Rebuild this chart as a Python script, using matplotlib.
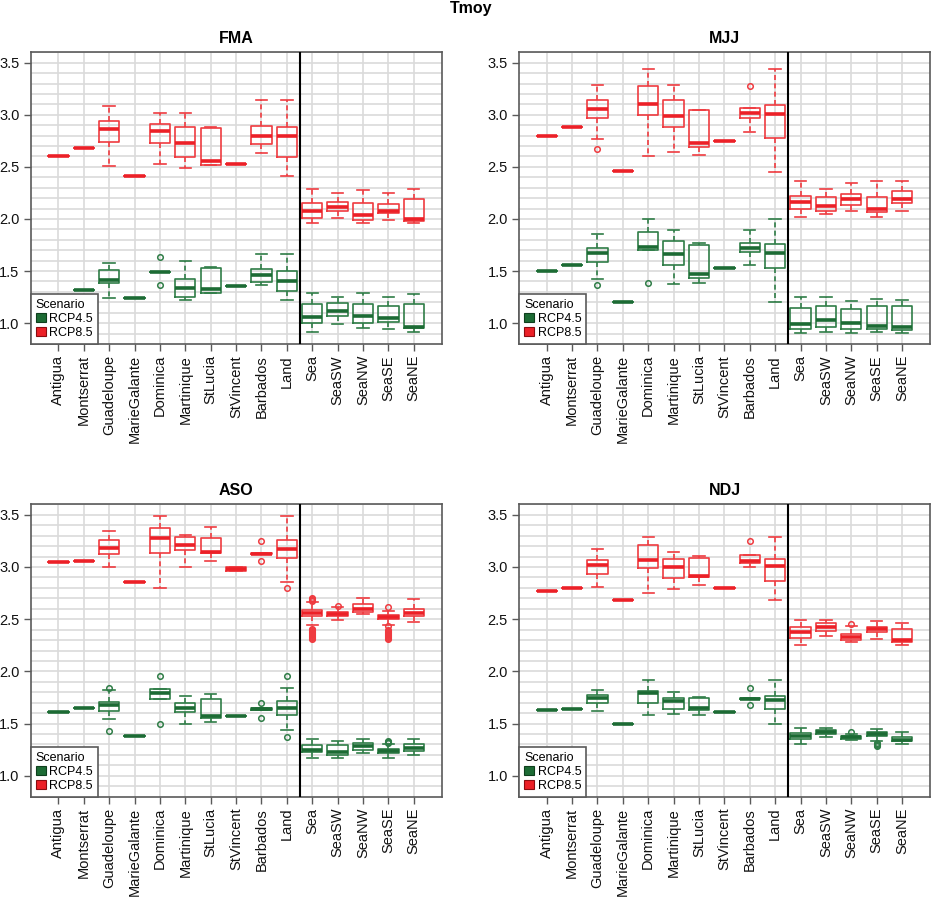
import matplotlib
matplotlib.use('Agg')
import matplotlib.pyplot as plt
import numpy as np
from matplotlib.patches import Patch

plt.rcParams['font.family'] = ['Liberation Sans', 'DejaVu Sans']

CATEGORIES = ['Antigua', 'Montserrat', 'Guadeloupe', 'MarieGalante', 'Dominica',
              'Martinique', 'StLucia', 'StVincent', 'Barbados', 'Land',
              'Sea', 'SeaSW', 'SeaNW', 'SeaSE', 'SeaNE']
SCENARIOS = ['RCP4.5', 'RCP8.5']
YTICKS = [1.0, 1.5, 2.0, 2.5, 3.0, 3.5]

# ---------------- FMA ----------------
FMA_85_LO  = [2.60, 2.68, 2.505, 2.41, 2.524, 2.492, 2.52, 2.531, 2.636, 2.41, 1.957, 2.011, 1.963, 1.995, 1.96]
FMA_85_Q1  = [2.60, 2.68, 2.735, 2.41, 2.725, 2.598, 2.521, 2.531, 2.716, 2.598, 2.014, 2.078, 1.995, 2.062, 1.976]
FMA_85_MED = [2.60, 2.68, 2.862, 2.41, 2.84, 2.725, 2.553, 2.531, 2.80, 2.792, 2.078, 2.119, 2.04, 2.081, 2.001]
FMA_85_Q3  = [2.60, 2.68, 2.945, 2.41, 2.916, 2.881, 2.875, 2.531, 2.888, 2.885, 2.154, 2.167, 2.151, 2.145, 2.193]
FMA_85_HI  = [2.60, 2.68, 3.082, 2.41, 3.022, 3.022, 2.885, 2.531, 3.14, 3.14, 2.285, 2.247, 2.276, 2.247, 2.285]
FMA_85_FL  = {}

FMA_45_LO  = [1.265, 1.319, 1.242, 1.239, 1.491, 1.22, 1.29, 1.354, 1.37, 1.22, 0.917, 0.99, 0.952, 0.943, 0.917]
FMA_45_Q1  = [1.265, 1.319, 1.383, 1.239, 1.491, 1.252, 1.29, 1.354, 1.399, 1.309, 1.0, 1.067, 1.003, 1.013, 0.949]
FMA_45_MED = [1.265, 1.319, 1.418, 1.239, 1.491, 1.341, 1.325, 1.354, 1.459, 1.405, 1.061, 1.121, 1.07, 1.045, 0.965]
FMA_45_Q3  = [1.265, 1.319, 1.51, 1.239, 1.491, 1.424, 1.529, 1.354, 1.52, 1.501, 1.185, 1.194, 1.185, 1.166, 1.182]
FMA_45_HI  = [1.265, 1.319, 1.574, 1.239, 1.491, 1.60, 1.539, 1.354, 1.663, 1.663, 1.29, 1.255, 1.29, 1.252, 1.28]
FMA_45_FL  = {4: [1.635, 1.37]}

# ---------------- MJJ ----------------
MJJ_85_LO  = [2.792, 2.881, 2.767, 2.457, 2.607, 2.645, 2.614, 2.747, 2.837, 2.454, 2.02, 2.052, 2.078, 2.02, 2.081]
MJJ_85_Q1  = [2.792, 2.881, 2.967, 2.457, 3.0, 2.881, 2.687, 2.747, 2.974, 2.779, 2.094, 2.081, 2.132, 2.065, 2.151]
MJJ_85_MED = [2.792, 2.881, 3.054, 2.457, 3.101, 2.99, 2.728, 2.747, 3.022, 3.012, 2.167, 2.126, 2.193, 2.097, 2.193]
MJJ_85_Q3  = [2.792, 2.881, 3.14, 2.457, 3.28, 3.146, 3.044, 2.747, 3.07, 3.098, 2.225, 2.215, 2.237, 2.209, 2.272]
MJJ_85_HI  = [2.792, 2.881, 3.29, 2.457, 3.44, 3.29, 3.05, 2.747, 3.07, 3.44, 2.368, 2.285, 2.349, 2.368, 2.368]
MJJ_85_FL  = {2: [2.668], 8: [3.277]}

MJJ_45_LO  = [1.498, 1.555, 1.421, 1.207, 1.698, 1.373, 1.386, 1.533, 1.558, 1.207, 0.901, 0.914, 0.904, 0.911, 0.901]
MJJ_45_Q1  = [1.498, 1.555, 1.587, 1.207, 1.698, 1.555, 1.437, 1.533, 1.682, 1.526, 0.943, 0.965, 0.943, 0.943, 0.933]
MJJ_45_MED = [1.498, 1.555, 1.676, 1.207, 1.73, 1.666, 1.475, 1.533, 1.724, 1.676, 0.99, 1.035, 1.006, 0.975, 0.965]
MJJ_45_Q3  = [1.498, 1.555, 1.721, 1.207, 1.877, 1.788, 1.75, 1.533, 1.769, 1.756, 1.15, 1.163, 1.137, 1.169, 1.163]
MJJ_45_HI  = [1.498, 1.555, 1.855, 1.207, 2.0, 1.899, 1.769, 1.533, 1.893, 2.0, 1.252, 1.252, 1.214, 1.23, 1.22]
MJJ_45_FL  = {2: [1.37], 4: [1.389]}

# ---------------- ASO ----------------
ASO_85_LO  = [3.047, 3.06, 3.003, 2.856, 2.798, 2.996, 3.054, 2.96, 3.12, 2.853, 2.441, 2.489, 2.547, 2.448, 2.476]
ASO_85_Q1  = [3.047, 3.06, 3.121, 2.856, 3.133, 3.159, 3.133, 2.965, 3.12, 3.089, 2.531, 2.534, 2.569, 2.499, 2.527]
ASO_85_MED = [3.047, 3.06, 3.184, 2.856, 3.28, 3.21, 3.143, 2.98, 3.127, 3.168, 2.559, 2.553, 2.601, 2.518, 2.556]
ASO_85_Q3  = [3.047, 3.06, 3.261, 2.856, 3.376, 3.29, 3.277, 2.995, 3.135, 3.261, 2.585, 2.572, 2.649, 2.537, 2.598]
ASO_85_HI  = [3.047, 3.06, 3.341, 2.856, 3.487, 3.305, 3.379, 3.0, 3.135, 3.487, 2.665, 2.612, 2.703, 2.575, 2.693]
ASO_85_FL  = {8: [3.245, 3.054], 9: [2.798],
              10: [2.31, 2.32, 2.33, 2.34, 2.35, 2.36, 2.37, 2.38, 2.39, 2.40, 2.41, 2.675, 2.685, 2.695, 2.705],
              11: [2.628],
              13: [2.617, 2.31, 2.32, 2.33, 2.34, 2.35, 2.36, 2.37, 2.38, 2.39, 2.40, 2.43]}

ASO_45_LO  = [1.609, 1.654, 1.548, 1.38, 1.74, 1.5, 1.513, 1.574, 1.635, 1.434, 1.169, 1.169, 1.217, 1.172, 1.204]
ASO_45_Q1  = [1.609, 1.654, 1.618, 1.38, 1.74, 1.609, 1.555, 1.574, 1.635, 1.587, 1.227, 1.204, 1.249, 1.217, 1.233]
ASO_45_MED = [1.609, 1.654, 1.682, 1.38, 1.794, 1.654, 1.574, 1.574, 1.641, 1.654, 1.249, 1.227, 1.284, 1.236, 1.265]
ASO_45_Q3  = [1.609, 1.654, 1.705, 1.38, 1.829, 1.695, 1.74, 1.574, 1.65, 1.718, 1.297, 1.297, 1.319, 1.259, 1.306]
ASO_45_HI  = [1.609, 1.654, 1.826, 1.38, 1.829, 1.765, 1.781, 1.574, 1.65, 1.845, 1.354, 1.332, 1.354, 1.306, 1.357]
ASO_45_FL  = {2: [1.845, 1.43], 4: [1.957, 1.494], 8: [1.702, 1.558], 9: [1.957, 1.376],
              13: [1.315, 1.322, 1.328, 1.335]}

# ---------------- NDJ ----------------
NDJ_85_LO  = [2.767, 2.798, 2.808, 2.687, 2.747, 2.789, 2.827, 2.802, 3.003, 2.687, 2.253, 2.336, 2.279, 2.314, 2.25]
NDJ_85_Q1  = [2.767, 2.798, 2.929, 2.687, 2.99, 2.894, 2.901, 2.802, 3.034, 2.869, 2.32, 2.384, 2.304, 2.374, 2.285]
NDJ_85_MED = [2.767, 2.798, 3.022, 2.687, 3.063, 3.0, 2.913, 2.802, 3.054, 3.009, 2.378, 2.422, 2.33, 2.403, 2.304]
NDJ_85_Q3  = [2.767, 2.798, 3.07, 2.687, 3.21, 3.079, 3.085, 2.802, 3.117, 3.076, 2.422, 2.464, 2.362, 2.425, 2.406]
NDJ_85_HI  = [2.767, 2.798, 3.168, 2.687, 3.286, 3.143, 3.101, 2.802, 3.117, 3.286, 2.496, 2.496, 2.438, 2.486, 2.46]
NDJ_85_FL  = {8: [3.251], 12: [2.451]}

NDJ_45_LO  = [1.628, 1.638, 1.618, 1.5, 1.587, 1.596, 1.587, 1.612, 1.735, 1.5, 1.3, 1.367, 1.344, 1.332, 1.303]
NDJ_45_Q1  = [1.628, 1.638, 1.695, 1.5, 1.702, 1.638, 1.635, 1.612, 1.735, 1.638, 1.354, 1.402, 1.351, 1.38, 1.332]
NDJ_45_MED = [1.628, 1.638, 1.749, 1.5, 1.794, 1.718, 1.647, 1.612, 1.74, 1.727, 1.383, 1.421, 1.37, 1.402, 1.344]
NDJ_45_Q3  = [1.628, 1.638, 1.778, 1.5, 1.816, 1.749, 1.749, 1.612, 1.748, 1.765, 1.408, 1.44, 1.383, 1.421, 1.367]
NDJ_45_HI  = [1.628, 1.638, 1.823, 1.5, 1.918, 1.8, 1.759, 1.612, 1.748, 1.918, 1.459, 1.456, 1.405, 1.45, 1.415]
NDJ_45_FL  = {8: [1.842, 1.676], 12: [1.418], 13: [1.29, 1.297, 1.305, 1.313]}


def build_stats(lo, q1, med, q3, hi, fl):
    return [dict(whislo=lo[i], q1=q1[i], med=med[i], q3=q3[i], whishi=hi[i],
                 fliers=fl.get(i, [])) for i in range(len(lo))]


PANELS = [
    ('FMA', (30.7, 441.7, 52.3, 344.0),
     build_stats(FMA_45_LO, FMA_45_Q1, FMA_45_MED, FMA_45_Q3, FMA_45_HI, FMA_45_FL),
     build_stats(FMA_85_LO, FMA_85_Q1, FMA_85_MED, FMA_85_Q3, FMA_85_HI, FMA_85_FL)),
    ('MJJ', (519.0, 930.0, 52.3, 344.0),
     build_stats(MJJ_45_LO, MJJ_45_Q1, MJJ_45_MED, MJJ_45_Q3, MJJ_45_HI, MJJ_45_FL),
     build_stats(MJJ_85_LO, MJJ_85_Q1, MJJ_85_MED, MJJ_85_Q3, MJJ_85_HI, MJJ_85_FL)),
    ('ASO', (30.7, 441.7, 504.3, 796.7),
     build_stats(ASO_45_LO, ASO_45_Q1, ASO_45_MED, ASO_45_Q3, ASO_45_HI, ASO_45_FL),
     build_stats(ASO_85_LO, ASO_85_Q1, ASO_85_MED, ASO_85_Q3, ASO_85_HI, ASO_85_FL)),
    ('NDJ', (519.0, 930.0, 504.3, 796.7),
     build_stats(NDJ_45_LO, NDJ_45_Q1, NDJ_45_MED, NDJ_45_Q3, NDJ_45_HI, NDJ_45_FL),
     build_stats(NDJ_85_LO, NDJ_85_Q1, NDJ_85_MED, NDJ_85_Q3, NDJ_85_HI, NDJ_85_FL)),
]

GREEN = '#1c6b34'
GREEN_EDGE = '#2f7d47'
RED = '#ec2027'
RED_EDGE = '#ef3b40'
GRID = '#dadada'
FRAME = '#5a5a5a'

W, H = 931, 897
fig = plt.figure(figsize=(W / 100, H / 100), dpi=100)

positions = np.arange(len(CATEGORIES))


def draw(ax, stats, col, edge):
    ax.bxp(stats, positions=positions, widths=0.8, capwidths=0.45,
           showfliers=True, manage_ticks=False,
           boxprops=dict(color=edge, lw=1.2),
           medianprops=dict(color=col, lw=2.6, solid_capstyle='butt'),
           whiskerprops=dict(color=edge, lw=1.2, linestyle=(0, (3, 2))),
           capprops=dict(color=edge, lw=1.2),
           flierprops=dict(marker='o', markerfacecolor='none', markeredgecolor=edge,
                           markersize=4, markeredgewidth=1.1, linestyle='none'))


for name, (l, r, t, b), st45, st85 in PANELS:
    ax = fig.add_axes([l / W, 1 - b / H, (r - l) / W, (b - t) / H])
    ax.set_axisbelow(True)
    draw(ax, st45, GREEN, GREEN_EDGE)
    draw(ax, st85, RED, RED_EDGE)
    ax.axvline(9.5, color='black', lw=1.5, zorder=5)
    ax.set_xlim(-1.09, 15.1)
    ax.set_ylim(0.8, 3.6)
    ax.set_xticks(positions)
    ax.set_xticklabels(CATEGORIES, rotation=90)
    ax.set_yticks(YTICKS)
    ax.set_yticklabels(['%.1f' % v for v in YTICKS])
    ax.set_yticks(np.round(np.arange(0.9, 3.61, 0.1), 2), minor=True)
    ax.tick_params(which='minor', length=0)
    ax.tick_params(which='major', direction='out', length=5, width=1, color=FRAME,
                   labelsize=10.5, pad=3, labelcolor='#111111')
    ax.grid(True, which='major', axis='x', color=GRID, lw=1.2)
    ax.grid(True, which='both', axis='y', color=GRID, lw=1.2)
    for s in ax.spines.values():
        s.set_color(FRAME)
        s.set_linewidth(1.2)
    ax.set_title(name, fontsize=11.5, fontweight='bold', pad=7)
    handles = [Patch(facecolor=GREEN, edgecolor='#0f3f1d', lw=0.8, label=SCENARIOS[0]),
               Patch(facecolor=RED, edgecolor='#8a0c10', lw=0.8, label=SCENARIOS[1])]
    leg = ax.legend(handles=handles, title='Scenario', loc='lower left',
                    bbox_to_anchor=(0, 0), borderaxespad=0, frameon=True,
                    fancybox=False, edgecolor=FRAME, framealpha=1,
                    handlelength=0.8, handleheight=0.8, handletextpad=0.3,
                    borderpad=0.4, labelspacing=0.15, fontsize=9,
                    title_fontsize=9, alignment='left')
    leg.get_frame().set_linewidth(1.2)
    leg.set_zorder(10)

fig.text(471 / W, 1 - 13 / H, 'Tmoy', ha='center', va='baseline',
         fontsize=11.5, fontweight='bold')

fig.savefig('out.png', dpi=100)
